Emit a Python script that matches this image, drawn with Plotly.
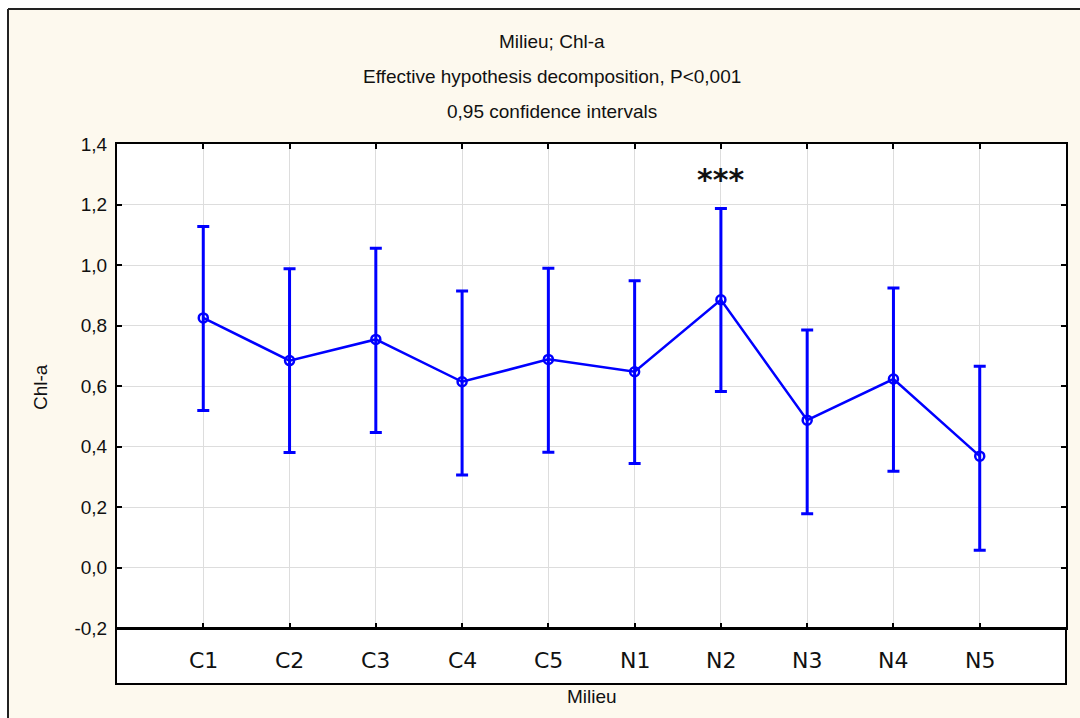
import plotly.graph_objects as go

categories = ["C1", "C2", "C3", "C4", "C5", "N1", "N2", "N3", "N4", "N5"]
means = [0.825, 0.684, 0.754, 0.614, 0.688, 0.647, 0.885, 0.487, 0.623, 0.368]
upper = [1.127, 0.988, 1.055, 0.914, 0.989, 0.948, 1.187, 0.785, 0.924, 0.665]
lower = [0.519, 0.380, 0.446, 0.306, 0.381, 0.344, 0.582, 0.178, 0.318, 0.057]
y_ticks = [-0.2, 0.0, 0.2, 0.4, 0.6, 0.8, 1.0, 1.2, 1.4]
y_tick_text = ["-0,2", "0,0", "0,2", "0,4", "0,6", "0,8", "1,0", "1,2", "1,4"]
titles = ["Milieu; Chl-a", "Effective hypothesis decomposition, P<0,001", "0,95 confidence intervals"]
signif_cat = "N2"
signif_text = "***"
signif_y = 1.283

W, H = 1080, 718
L, R, T, B = 117, 14, 144, 90
pw, ph = W - L - R, H - T - B

def px(x):
    return (x - L) / pw

def py(y):
    return (H - B - y) / ph

x_idx = list(range(len(categories)))
err_plus = [u - m for u, m in zip(upper, means)]
err_minus = [m - l for m, l in zip(means, lower)]

blue = "#0000FF"
cream = "#FDF9EE"
font_main = "Liberation Sans, Arial, sans-serif"
txt = "#111111"

fig = go.Figure()
fig.add_trace(go.Scatter(
    x=x_idx, y=means, mode="lines+markers",
    line=dict(color=blue, width=2.5),
    marker=dict(symbol="circle-open", size=9, color=blue, line=dict(width=2.5, color=blue)),
    error_y=dict(type="data", symmetric=False, array=err_plus, arrayminus=err_minus,
                 color=blue, thickness=3, width=6),
    showlegend=False, hoverinfo="skip",
))

fig.update_layout(
    width=W, height=H,
    margin=dict(l=L, r=R, t=T, b=B, pad=0),
    paper_bgcolor=cream, plot_bgcolor="white",
    font=dict(family=font_main, color=txt),
    xaxis=dict(
        range=[-1, len(categories)], tickmode="array", tickvals=x_idx,
        showticklabels=False, ticks="inside", ticklen=5, tickwidth=1.5, tickcolor="black",
        showline=True, linecolor="black", linewidth=2, mirror="ticks",
        showgrid=True, gridcolor="#DDDDDD", gridwidth=1, zeroline=False,
    ),
    yaxis=dict(
        range=[-0.2, 1.4], tickmode="array", tickvals=y_ticks, ticktext=y_tick_text,
        ticks="inside", ticklen=5, tickwidth=1.5, tickcolor="black",
        showline=True, linecolor="black", linewidth=2, mirror="ticks",
        showgrid=True, gridcolor="#DDDDDD", gridwidth=1, zeroline=False,
        tickfont=dict(family=font_main, size=19, color=txt),
        ticklabelstandoff=4,
    ),
)

shapes = [
    dict(type="rect", xref="paper", yref="paper", x0=px(-5), x1=px(W + 5), y0=py(9), y1=py(-5),
         fillcolor="white", line=dict(width=0), layer="below"),
    dict(type="rect", xref="paper", yref="paper", x0=px(-5), x1=px(8), y0=py(H + 5), y1=py(-5),
         fillcolor="white", line=dict(width=0), layer="below"),
    dict(type="line", xref="paper", yref="paper", x0=px(8), x1=px(W + 5), y0=py(9), y1=py(9),
         line=dict(color="#222222", width=2)),
    dict(type="line", xref="paper", yref="paper", x0=px(8), x1=px(8), y0=py(9), y1=py(H + 5),
         line=dict(color="#222222", width=2)),
    dict(type="rect", xref="paper", yref="paper", x0=px(116), x1=px(1066), y0=py(684), y1=py(628),
         fillcolor="white", line=dict(color="black", width=2), layer="below"),
]
fig.update_layout(shapes=shapes)

annotations = []
for i, c in enumerate(categories):
    annotations.append(dict(x=i, y=py(660), xref="x", yref="paper", text=c, showarrow=False,
                            font=dict(family="DejaVu Sans, sans-serif", size=22, color=txt),
                            xanchor="center", yanchor="middle"))
for t, yy in zip(titles, [42, 76, 111]):
    annotations.append(dict(x=px(552), y=py(yy), xref="paper", yref="paper", text=t, showarrow=False,
                            font=dict(family=font_main, size=19, color=txt),
                            xanchor="center", yanchor="middle"))
annotations.append(dict(x=0.5, y=py(696), xref="paper", yref="paper", text="Milieu", showarrow=False,
                        font=dict(family=font_main, size=19, color=txt),
                        xanchor="center", yanchor="middle"))
annotations.append(dict(x=px(40), y=py(387), xref="paper", yref="paper", text="Chl-a", showarrow=False,
                        textangle=-90, font=dict(family=font_main, size=19, color=txt),
                        xanchor="center", yanchor="middle"))
annotations.append(dict(x=categories.index(signif_cat), y=signif_y, xref="x", yref="y",
                        text="<b>" + signif_text + "</b>",
                        showarrow=False, font=dict(family="DejaVu Sans, sans-serif", size=30, color=txt),
                        xanchor="center", yanchor="middle"))
fig.update_layout(annotations=annotations)

fig.write_html("out.html")
